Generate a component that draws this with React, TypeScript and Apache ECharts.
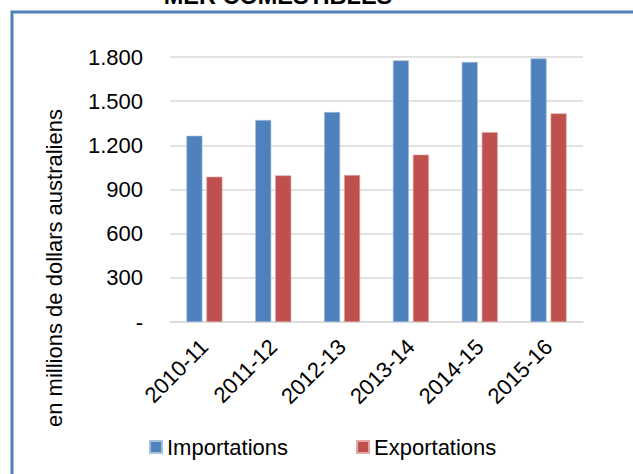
import React, { useEffect, useRef } from "react";
import * as echarts from "echarts";

const categories = ["2010-11", "2011-12", "2012-13", "2013-14", "2014-15", "2015-16"];
const importations = [1265, 1372, 1426, 1777, 1766, 1791];
const exportations = [987, 996, 998, 1137, 1290, 1417];
const seriesNames = ["Importations", "Exportations"];
const yTicks = [0, 300, 600, 900, 1200, 1500, 1800];
const titleText = "MER COMESTIBLES";
const yAxisName = "en millions de dollars australiens";

const FONT = "'Liberation Sans', Arial, sans-serif";

export default function App() {
  const ref = useRef<HTMLDivElement>(null);
  useEffect(() => {
    if (!ref.current) return;
    const chart = echarts.init(ref.current, null, { renderer: "svg" });
    chart.setOption({
      animation: false,
      backgroundColor: "#ffffff",
      textStyle: { fontFamily: FONT },
      graphic: [
        {
          type: "polyline",
          shape: { points: [[12, 480], [12, 12], [640, 12]] },
          style: { stroke: "#4F81BD", lineWidth: 3, fill: "none" },
          z: 10,
        },
        {
          type: "text",
          x: 278,
          y: 8,
          style: {
            text: titleText,
            fontFamily: FONT,
            fontWeight: "bold",
            fontSize: 23.5,
            fill: "#000",
            textAlign: "center",
            textVerticalAlign: "bottom",
          },
        },
        {
          type: "text",
          x: 54,
          y: 268,
          rotation: Math.PI / 2,
          style: {
            text: yAxisName,
            fontFamily: FONT,
            fontSize: 22,
            fill: "#000",
            textAlign: "center",
            textVerticalAlign: "middle",
          },
        },
      ],
      grid: { left: 170, right: 50, top: 57, bottom: 152, containLabel: false },
      legend: {
        data: seriesNames,
        left: 144,
        top: 431,
        icon: "rect",
        itemWidth: 12,
        itemHeight: 12,
        itemGap: 68,
        textStyle: { fontSize: 22, color: "#000", fontFamily: FONT },
      },
      xAxis: {
        type: "category",
        data: categories,
        axisLine: { lineStyle: { color: "#D9D9D9", width: 1.5 } },
        axisTick: { show: false },
        axisLabel: {
          rotate: 45,
          interval: 0,
          margin: 21,
          fontSize: 22,
          color: "#000",
          fontFamily: FONT,
        },
      },
      yAxis: {
        type: "value",
        min: yTicks[0],
        max: yTicks[yTicks.length - 1],
        interval: 300,
        axisLine: { show: false },
        axisTick: { show: false },
        splitLine: { lineStyle: { color: "#D9D9D9", width: 1.5 } },
        axisLabel: {
          margin: 27,
          fontSize: 22,
          color: "#000",
          fontFamily: FONT,
          formatter: (v: number) =>
            v === 0 ? "-" : v.toString().replace(/\B(?=(\d{3})+(?!\d))/g, "."),
        },
      },
      series: [
        {
          name: seriesNames[0],
          type: "bar",
          data: importations,
          barWidth: 16,
          barGap: "25%",
          itemStyle: { color: "#4F81BD", borderColor: "#A7C0DE", borderWidth: 0.6 },
        },
        {
          name: seriesNames[1],
          type: "bar",
          data: exportations,
          barWidth: 16,
          itemStyle: { color: "#C0504D", borderColor: "#E0A8A6", borderWidth: 0.6 },
        },
      ],
    });
    return () => chart.dispose();
  }, []);
  return (
    <div
      ref={ref}
      style={{ position: "fixed", left: 0, top: 0, width: 633, height: 474 }}
    />
  );
}
